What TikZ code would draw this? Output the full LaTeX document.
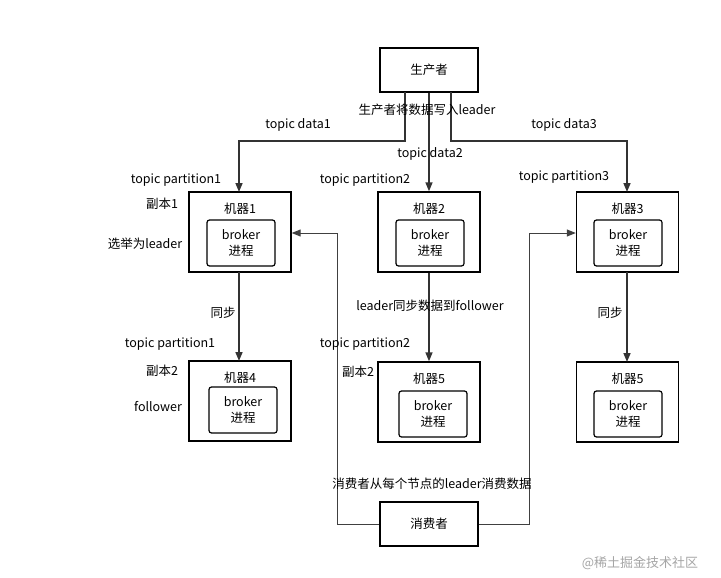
\documentclass[tikz,border=0pt]{standalone}
\usepackage{fontspec}
\setmainfont{Noto Sans CJK SC}
\usetikzlibrary{arrows.meta}
\begin{document}
\begin{tikzpicture}[x=1pt,y=-1pt,font=\fontsize{12.5}{14}\selectfont,
  box/.style={draw,line width=1.4pt,inner sep=0},
  inbox/.style={draw,line width=1.2pt,rounded corners=2.5pt,inner sep=0},
  lbl/.style={inner sep=0,fill=none},
  arr/.style={line width=1.6pt,draw=black!80,-{Triangle[length=9pt,width=7pt]}},
  carr/.style={line width=1pt,draw=black!75,-{Triangle[length=9pt,width=7pt]}}]
\useasboundingbox (0,0) rectangle (721,578);
\fill[white] (0,0) rectangle (721,578);
% boxes
\node[box,minimum width=98pt,minimum height=44pt] (P) at (429,70) {生产者};
\node[box,minimum width=98pt,minimum height=44pt] (C) at (429,524) {消费者};
\foreach \n/\x/\y/\t in {m1/240/232/机器1,m2/429/232/机器2,m3/627.5/232/机器3,m4/240/401/机器4,m5/429/402/机器5,m6/627.5/402/机器5}{
  \node[box,minimum width=102pt,minimum height=80pt] (\n) at (\x,\y) {};
  \node[lbl] (\n t) at (\x,\y-23) {\t};
}
\foreach \n/\x/\y in {b1/241/243,b2/430/243,b3/628/243,b4/243/410,b5/433/414,b6/628/414}{
  \node[inbox,minimum width=68pt,minimum height=46pt,align=center,font=\fontsize{12.5}{16}\selectfont] (\n) at (\x,\y) {broker\\进程};
}
% producer arrows
\coordinate (pl) at (405,92);
\coordinate (pr) at (451,92);
\draw[arr] (pl) |- (239,141) -- (239,192);
\draw[arr] (P.south) -- (m2.north);
\draw[arr] (pr) |- (627,141) -- (627,192);
% sync
\draw[arr] (239,272) -- (239,361);
\draw[arr] (m2.south) -- (m5.north);
\draw[arr] (627,272) -- (627,362);
% consumer
\draw[carr] (C.west) -| (337,233) -- (m1.east |- 0,233);
\draw[carr] (C.east) -| (529,233) -- (m3.west |- 0,233);
% labels
\node[lbl] (l0) at (427,110) {生产者将数据写入leader};
\node[lbl] (l1) at (298,125) {topic data1};
\node[lbl] (l2) at (430,154) {topic data2};
\node[lbl] (l3) at (564,125) {topic data3};
\node[lbl] (tp1) at (176,180) {topic partition1};
\node[lbl] (tp2) at (365,180) {topic partition2};
\node[lbl] (tp3) at (564,177) {topic partition3};
\node[lbl] (f1) at (162,204) {副本1};
\node[lbl] (e1) at (145,244) {选举为leader};
\node[lbl] (s1) at (223,313) {同步};
\node[lbl] (s3) at (610,313) {同步};
\node[lbl] (ls) at (430,306) {leader同步数据到follower};
\node[lbl] (tp4) at (170,344) {topic partition1};
\node[lbl] (tp5) at (365,344) {topic partition2};
\node[lbl] (f2) at (162,371) {副本2};
\node[lbl] (fo) at (158,407) {follower};
\node[lbl] (f3) at (358,372) {副本2};
\node[lbl] (cl) at (432,484) {消费者从每个节点的leader消费数据};
\node[lbl,text=black!35,font=\fontsize{13}{14}\selectfont] (wm) at (640,563) {@稀土掘金技术社区};
\end{tikzpicture}
\end{document}
